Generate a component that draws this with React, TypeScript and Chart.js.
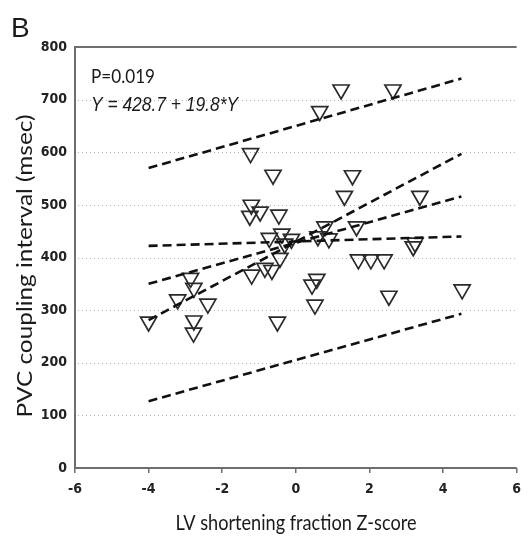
import React, { useEffect, useRef } from "react";
import { Chart, registerables } from "chart.js";

Chart.register(...registerables);

// LV shortening fraction Z-score
const zScore = [
  -4.0, -2.86, -2.77, -3.21, -2.39, -2.77, -2.78, -1.2, -1.23, -0.62,
  -1.21, -1.25, -0.97, -0.46, -0.72, -0.38, -0.3, -0.12, -0.43, -0.84,
  -0.65, -0.5, 0.44, 0.57, 0.52, 0.6, 0.79, 0.9, 0.65, 1.23,
  2.64, 1.54, 1.32, 3.37, 1.65, 3.24, 3.19, 1.7, 2.04, 2.4,
  2.53, 4.52,
];
// PVC coupling interval (msec)
const couplingMs = [
  278, 361, 342, 320, 312, 280, 257, 367, 598, 557,
  500, 479, 487, 481, 437, 445, 426, 435, 399, 380,
  376, 278, 348, 359, 310, 440, 459, 436, 678, 719,
  719, 556, 517, 517, 459, 428, 421, 396, 396, 396,
  327, 339,
];

// dashed lines: x range and end values
const lineX = [-4.0, 4.5];
const predUpper = [570, 740];
const slopeHigh = [281, 597];
const fitLine = [350, 516];
const slopeLow = [422, 440];
const predLower = [127, 293];

const xTicks = [-6, -4, -2, 0, 2, 4, 6];
const yTicks = [0, 100, 200, 300, 400, 500, 600, 700, 800];

const panelLabel = "B";
const pText = "P=0.019";
const eqText = "Y = 428.7 + 19.8*Y";
const xTitle = "LV shortening fraction Z-score";
const yTitle = "PVC coupling interval (msec)";

function fitText(
  ctx: CanvasRenderingContext2D,
  text: string,
  cx: number,
  cy: number,
  font: string,
  width: number,
  rot = 0
) {
  ctx.save();
  ctx.font = font;
  const w = ctx.measureText(text).width;
  ctx.translate(cx, cy);
  ctx.rotate(rot);
  ctx.scale(width / w, 1);
  ctx.textAlign = "center";
  ctx.textBaseline = "middle";
  ctx.fillStyle = "#1a1a1a";
  ctx.fillText(text, 0, 0);
  ctx.restore();
}

const overlay = {
  id: "overlay",
  beforeDatasetsDraw(chart: any) {
    const { ctx, chartArea, scales } = chart;
    const ys = scales.y;
    ctx.save();
    ctx.strokeStyle = "#b0b0b0";
    ctx.lineWidth = 1;
    ctx.setLineDash([1, 3]);
    for (const v of yTicks) {
      if (v === 0 || v === 800) continue;
      const py = Math.round(ys.getPixelForValue(v)) + 0.5;
      ctx.beginPath();
      ctx.moveTo(chartArea.left + 3, py);
      ctx.lineTo(chartArea.right, py);
      ctx.stroke();
    }
    ctx.setLineDash([]);
    ctx.strokeStyle = "#6e6e6e";
    ctx.lineWidth = 2;
    const top = ys.getPixelForValue(800);
    const bottom = ys.getPixelForValue(0);
    ctx.beginPath();
    ctx.moveTo(chartArea.left - 1, top);
    ctx.lineTo(chartArea.right, top);
    ctx.moveTo(chartArea.left, top);
    ctx.lineTo(chartArea.left, bottom);
    ctx.moveTo(chartArea.left - 1, bottom);
    ctx.lineTo(chartArea.right, bottom);
    ctx.stroke();
    ctx.restore();
  },
  afterDraw(chart: any) {
    const ctx = chart.ctx as CanvasRenderingContext2D;
    ctx.save();
    ctx.font = "28px 'Liberation Sans', Arial, sans-serif";
    ctx.fillStyle = "#1a1a1a";
    ctx.textAlign = "left";
    ctx.textBaseline = "alphabetic";
    ctx.fillText(panelLabel, 11, 37);
    ctx.restore();
    fitText(ctx, pText, 123, 77, "19px Lato, sans-serif", 64);
    fitText(
      ctx,
      eqText,
      164.5,
      105,
      "italic 21px 'Liberation Sans Narrow', 'Liberation Sans', sans-serif",
      147
    );
    fitText(ctx, xTitle, 296, 523, "21px Lato, sans-serif", 241);
    fitText(ctx, yTitle, 25, 266, "21px Lato, sans-serif", 303, -Math.PI / 2);
  },
};

const tickFont = {
  family: "'Liberation Sans Narrow', 'DejaVu Sans Condensed', sans-serif",
  size: 14,
  weight: "bold" as const,
};

export default function App() {
  const ref = useRef<HTMLCanvasElement>(null);
  useEffect(() => {
    if (!ref.current) return;
    const mk = (vals: number[]) => lineX.map((x, i) => ({ x, y: vals[i] }));
    const lineStyle = {
      type: "line" as const,
      borderColor: "#111",
      borderWidth: 2.6,
      borderDash: [9, 5],
      pointRadius: 0,
      fill: false,
      showLine: true,
    };
    const chart = new Chart(ref.current, {
      type: "scatter",
      data: {
        datasets: [
          { ...lineStyle, data: mk(predUpper) },
          { ...lineStyle, data: mk(slopeHigh) },
          { ...lineStyle, data: mk(fitLine) },
          { ...lineStyle, data: mk(slopeLow) },
          { ...lineStyle, data: mk(predLower) },
          {
            type: "scatter" as const,
            data: zScore.map((x, i) => ({ x, y: couplingMs[i] })),
            pointStyle: "triangle",
            rotation: 180,
            pointRadius: 9.3,
            borderColor: "#2a2a2a",
            borderWidth: 1.7,
            backgroundColor: "rgba(0,0,0,0)",
          },
        ] as any,
      },
      options: {
        responsive: false,
        animation: false,
        layout: { padding: { top: 47, left: 0, right: 0, bottom: 0 } },
        plugins: { legend: { display: false }, tooltip: { enabled: false } },
        scales: {
          x: {
            type: "linear",
            min: -6,
            max: 6,
            afterBuildTicks: (s: any) => {
              s.ticks = xTicks.map((v) => ({ value: v }));
            },
            afterFit: (s: any) => {
              s.height = 73;
            },
            ticks: { font: tickFont, color: "#222", padding: 8 },
            grid: {
              drawOnChartArea: false,
              drawTicks: true,
              tickLength: 5,
              color: "#6e6e6e",
              lineWidth: 1.5,
            },
            border: { display: false },
          },
          y: {
            type: "linear",
            min: 0,
            max: 800,
            afterBuildTicks: (s: any) => {
              s.ticks = yTicks.map((v) => ({ value: v }));
            },
            afterFit: (s: any) => {
              s.width = 75;
            },
            ticks: { font: tickFont, color: "#222", padding: 8 },
            grid: { display: false, drawTicks: false },
            border: { display: false },
          },
        },
      } as any,
      plugins: [overlay],
    });
    return () => chart.destroy();
  }, []);
  return (
    <div style={{ position: "absolute", left: 0, top: 0, width: 529, height: 541 }}>
      <canvas ref={ref} width={529} height={541} style={{ width: 529, height: 541 }} />
    </div>
  );
}
